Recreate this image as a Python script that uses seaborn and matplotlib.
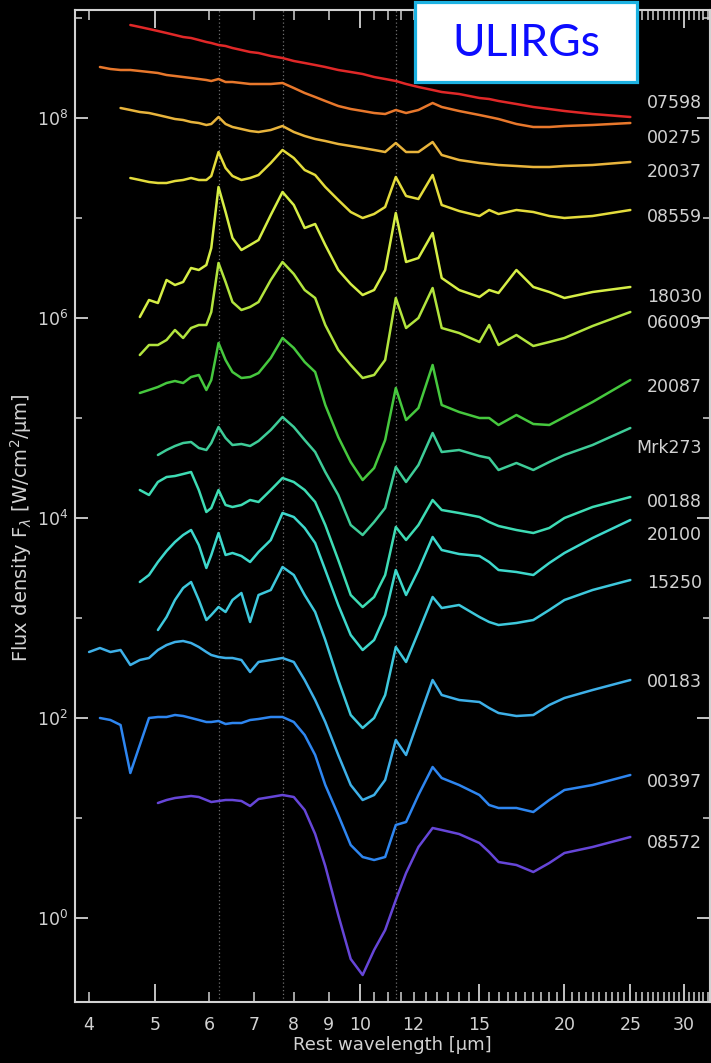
import numpy as np
import pandas as pd
import matplotlib
matplotlib.use("Agg")
import matplotlib.pyplot as plt
import seaborn as sns
from matplotlib.ticker import FixedLocator, FuncFormatter
from matplotlib.patches import Rectangle

nan = np.nan

# rest wavelength grid (micron), shared by all spectra
wavelength = [4.0, 4.15, 4.3, 4.45, 4.6, 4.75, 4.9, 5.05, 5.2, 5.35, 5.5, 5.65, 5.8, 5.95,
              6.05, 6.2, 6.35, 6.5, 6.7, 6.9, 7.1, 7.4, 7.7, 8.0, 8.3, 8.6, 8.9, 9.3, 9.7,
              10.1, 10.5, 10.9, 11.3, 11.7, 12.2, 12.8, 13.2, 14.0, 15.0, 15.5, 16.0, 17.0,
              18.0, 19.0, 20.0, 22.0, 25.0]

names = ["07598", "00275", "20037", "08559", "18030", "06009", "20087", "Mrk273",
         "00188", "20100", "15250", "00183", "00397", "08572"]

# log10 of the (offset) flux density
logf_07598 = [nan, nan, nan, nan, 8.93, 8.91, 8.89, 8.87, 8.85, 8.83, 8.81, 8.80, 8.78, 8.76,
              8.75, 8.73, 8.72, 8.70, 8.68, 8.66, 8.65, 8.62, 8.60, 8.57, 8.55, 8.53, 8.51,
              8.48, 8.46, 8.44, 8.41, 8.39, 8.37, 8.34, 8.31, 8.28, 8.26, 8.24, 8.20, 8.19,
              8.17, 8.14, 8.11, 8.09, 8.07, 8.04, 8.01]
logf_00275 = [nan, 8.51, 8.49, 8.48, 8.48, 8.47, 8.46, 8.45, 8.43, 8.42, 8.41, 8.40, 8.39, 8.38,
              8.37, 8.39, 8.36, 8.36, 8.35, 8.34, 8.34, 8.34, 8.35, 8.30, 8.25, 8.21, 8.17,
              8.12, 8.09, 8.07, 8.05, 8.04, 8.08, 8.05, 8.08, 8.15, 8.11, 8.07, 8.03, 8.01,
              7.99, 7.94, 7.91, 7.91, 7.92, 7.93, 7.95]
logf_20037 = [nan, nan, nan, 8.10, 8.08, 8.06, 8.05, 8.03, 8.01, 7.99, 7.98, 7.96, 7.95, 7.93,
              7.94, 8.01, 7.94, 7.91, 7.89, 7.87, 7.86, 7.88, 7.92, 7.86, 7.82, 7.79, 7.77,
              7.74, 7.72, 7.70, 7.68, 7.66, 7.75, 7.66, 7.66, 7.76, 7.63, 7.58, 7.55, 7.54,
              7.53, 7.52, 7.51, 7.51, 7.52, 7.53, 7.56]
logf_08559 = [nan, nan, nan, nan, 7.40, 7.38, 7.36, 7.35, 7.35, 7.37, 7.38, 7.40, 7.38, 7.38,
              7.42, 7.66, 7.50, 7.42, 7.38, 7.40, 7.43, 7.55, 7.68, 7.60, 7.48, 7.43, 7.31,
              7.18, 7.06, 7.00, 7.04, 7.11, 7.41, 7.22, 7.19, 7.43, 7.13, 7.07, 7.02, 7.08,
              7.04, 7.08, 7.06, 7.02, 7.00, 7.02, 7.08]
logf_18030 = [nan, nan, nan, nan, nan, 6.01, 6.18, 6.15, 6.38, 6.33, 6.36, 6.50, 6.48, 6.53,
              6.70, 7.31, 7.06, 6.80, 6.68, 6.73, 6.78, 7.03, 7.26, 7.13, 6.90, 6.94, 6.73,
              6.48, 6.34, 6.23, 6.28, 6.48, 7.05, 6.56, 6.60, 6.85, 6.40, 6.28, 6.21, 6.28,
              6.25, 6.48, 6.31, 6.26, 6.20, 6.26, 6.31]
logf_06009 = [nan, nan, nan, nan, nan, 5.63, 5.73, 5.73, 5.78, 5.88, 5.80, 5.90, 5.93, 5.93,
              6.06, 6.55, 6.36, 6.16, 6.08, 6.11, 6.16, 6.38, 6.56, 6.44, 6.28, 6.20, 5.93,
              5.68, 5.53, 5.40, 5.43, 5.58, 6.20, 5.90, 6.00, 6.30, 5.90, 5.85, 5.76, 5.93,
              5.73, 5.83, 5.72, 5.76, 5.80, 5.92, 6.06]
logf_20087 = [nan, nan, nan, nan, nan, 5.25, 5.28, 5.31, 5.35, 5.37, 5.35, 5.41, 5.43, 5.28,
              5.38, 5.75, 5.58, 5.46, 5.40, 5.41, 5.45, 5.60, 5.80, 5.70, 5.56, 5.46, 5.13,
              4.81, 4.56, 4.38, 4.50, 4.78, 5.30, 4.98, 5.10, 5.53, 5.13, 5.06, 5.00, 5.00,
              4.93, 5.03, 4.94, 4.93, 5.01, 5.16, 5.38]
logf_mrk273 = [nan, nan, nan, nan, nan, nan, nan, 4.63, 4.68, 4.72, 4.75, 4.76, 4.70, 4.68,
               4.75, 4.91, 4.80, 4.73, 4.74, 4.72, 4.77, 4.88, 5.01, 4.91, 4.78, 4.66, 4.46,
               4.23, 3.93, 3.83, 3.96, 4.10, 4.51, 4.36, 4.53, 4.85, 4.66, 4.68, 4.62, 4.60,
               4.48, 4.55, 4.48, 4.56, 4.63, 4.73, 4.90]
logf_00188 = [nan, nan, nan, nan, nan, 4.28, 4.23, 4.36, 4.41, 4.42, 4.44, 4.46, 4.28, 4.06,
              4.10, 4.28, 4.13, 4.11, 4.13, 4.18, 4.16, 4.28, 4.40, 4.36, 4.28, 4.16, 3.93,
              3.58, 3.23, 3.11, 3.21, 3.43, 3.91, 3.78, 3.93, 4.18, 4.08, 4.05, 4.01, 3.96,
              3.92, 3.88, 3.85, 3.90, 4.00, 4.11, 4.21]
logf_20100 = [nan, nan, nan, nan, nan, 3.36, 3.43, 3.56, 3.67, 3.76, 3.83, 3.88, 3.73, 3.50,
              3.63, 3.85, 3.63, 3.65, 3.62, 3.56, 3.66, 3.78, 4.05, 4.01, 3.90, 3.75, 3.48,
              3.13, 2.83, 2.68, 2.78, 3.03, 3.48, 3.23, 3.48, 3.81, 3.68, 3.64, 3.62, 3.56,
              3.48, 3.46, 3.43, 3.55, 3.65, 3.80, 3.98]
logf_15250 = [nan, nan, nan, nan, nan, nan, nan, 2.88, 3.01, 3.18, 3.30, 3.36, 3.18, 2.98,
              3.03, 3.11, 3.06, 3.18, 3.25, 2.96, 3.23, 3.28, 3.51, 3.43, 3.23, 3.06, 2.78,
              2.38, 2.03, 1.90, 2.00, 2.23, 2.71, 2.56, 2.86, 3.21, 3.10, 3.13, 3.01, 2.96,
              2.93, 2.95, 2.98, 3.08, 3.18, 3.28, 3.38]
logf_00183 = [2.66, 2.70, 2.66, 2.68, 2.53, 2.58, 2.60, 2.68, 2.73, 2.76, 2.77, 2.75, 2.71, 2.66,
              2.63, 2.61, 2.60, 2.60, 2.58, 2.46, 2.56, 2.58, 2.60, 2.56, 2.38, 2.18, 1.96,
              1.63, 1.33, 1.18, 1.23, 1.38, 1.78, 1.63, 1.98, 2.38, 2.23, 2.18, 2.16, 2.10,
              2.05, 2.02, 2.03, 2.13, 2.20, 2.28, 2.38]
logf_00397 = [nan, 2.00, 1.98, 1.93, 1.45, 1.73, 2.00, 2.01, 2.01, 2.03, 2.02, 2.00, 1.98, 1.96,
              1.96, 1.97, 1.94, 1.95, 1.95, 1.98, 1.99, 2.01, 2.01, 1.96, 1.83, 1.63, 1.33,
              1.03, 0.73, 0.61, 0.58, 0.61, 0.93, 0.96, 1.23, 1.51, 1.40, 1.33, 1.23, 1.13,
              1.10, 1.10, 1.06, 1.18, 1.28, 1.33, 1.43]
logf_08572 = [nan, nan, nan, nan, nan, nan, nan, 1.15, 1.18, 1.20, 1.21, 1.22, 1.21, 1.18,
              1.16, 1.17, 1.18, 1.18, 1.17, 1.12, 1.19, 1.21, 1.23, 1.21, 1.08, 0.84, 0.52,
              0.03, -0.41, -0.57, -0.32, -0.12, 0.18, 0.45, 0.71, 0.90, 0.88, 0.84, 0.75, 0.66,
              0.56, 0.53, 0.46, 0.55, 0.65, 0.71, 0.81]

spectra = [logf_07598, logf_00275, logf_20037, logf_08559, logf_18030, logf_06009,
           logf_20087, logf_mrk273, logf_00188, logf_20100, logf_15250, logf_00183,
           logf_00397, logf_08572]

# log10 height of each name label at the right edge
label_logy = [8.15, 7.80, 7.46, 7.01, 6.21, 5.95, 5.31, 4.70, 4.16, 3.83, 3.35, 2.36, 1.36, 0.75]

colors = ["#e02828", "#e8782c", "#e8b43c", "#e4dc3c", "#d6ee46", "#b2e43e", "#46c83e",
          "#3ecc98", "#3edcb4", "#3ed8cc", "#3ec8dc", "#3eb0e8", "#2e86f0", "#6646d8"]

pah_lines = [6.2, 7.7, 11.3]

frames = []
for name, logf in zip(names, spectra):
    frames.append(pd.DataFrame({"wavelength": wavelength,
                                "flux": 10 ** np.array(logf, dtype=float),
                                "galaxy": name}))
df = pd.concat(frames, ignore_index=True).dropna()

sns.set_style("ticks")
plt.rcParams["font.family"] = ["DejaVu Sans"]
fg = "#d2d2d2"

fig = plt.figure(figsize=(7.11, 10.63), dpi=100, facecolor="black")
ax = fig.add_axes([75 / 711, 1 - 1002 / 1063, 635 / 711, 992 / 1063])
ax.set_facecolor("black")
ax.set_xscale("log")
ax.set_yscale("log")

for w in pah_lines:
    ax.axvline(w, color="#6e6e6e", ls=(0, (1, 2)), lw=0.9, zorder=0)

sns.lineplot(data=df, x="wavelength", y="flux", hue="galaxy", hue_order=names,
             palette=colors, estimator=None, sort=False, legend=False, lw=1.8, ax=ax)

ax.set_xlim(3.814, 32.74)
ax.set_ylim(10 ** -0.84, 10 ** 9.08)

# x ticks: long at 5,10,...,30, short at every micron (half micron above 10)
ax.xaxis.set_major_locator(FixedLocator([5, 10, 15, 20, 25, 30]))
minor_x = [4, 6, 7, 8, 9] + [v for v in np.arange(10.5, 32.6, 0.5) if v % 5 != 0]
ax.xaxis.set_minor_locator(FixedLocator(minor_x))
ax.xaxis.set_major_formatter(FuncFormatter(lambda v, p: f"{v:g}"))
ax.xaxis.set_minor_formatter(FuncFormatter(
    lambda v, p: f"{v:g}" if v in (4, 6, 7, 8, 9, 12) else ""))

ax.yaxis.set_major_locator(FixedLocator([1e0, 1e2, 1e4, 1e6, 1e8]))
ax.yaxis.set_minor_locator(FixedLocator([1e1, 1e3, 1e5, 1e7, 1e9]))
ax.yaxis.set_major_formatter(FuncFormatter(lambda v, p: r"$10^{%d}$" % round(np.log10(v))))
ax.yaxis.set_minor_formatter(FuncFormatter(lambda v, p: ""))

ax.tick_params(axis="x", which="major", direction="in", length=13, width=1.3,
               color=fg, labelcolor=fg, labelsize=12.5, pad=10, top=True)
ax.tick_params(axis="x", which="minor", direction="in", length=7, width=1.1,
               color=fg, labelcolor=fg, labelsize=12.5, pad=10, top=True)
ax.tick_params(axis="y", which="major", direction="in", length=9.5, width=1.3,
               color=fg, labelcolor=fg, labelsize=12.5, pad=5, right=True)
ax.tick_params(axis="y", which="minor", direction="in", length=5, width=1.1,
               color=fg, right=True)
for s in ax.spines.values():
    s.set_color(fg)
    s.set_linewidth(1.5)

ax.set_xlabel("Rest wavelength [µm]", color=fg, fontsize=13)
ax.set_ylabel(r"Flux density F$_\lambda$ [W/cm$^2$/µm]", color=fg, fontsize=14)
ax.xaxis.set_label_coords(0.5, -0.034)
ax.yaxis.set_label_coords(-0.064, 0.478)

for name, ly in zip(names, label_logy):
    ax.text(0.9874, 10 ** ly, name, transform=ax.get_yaxis_transform(), ha="right",
            va="center", color=fg, fontsize=12.5)

fig.add_artist(Rectangle((415 / 711, 1 - 82 / 1063), 222 / 711, 80 / 1063,
                         transform=fig.transFigure, facecolor="white",
                         edgecolor="#1db2e2", lw=2.3, zorder=5))
fig.text(526 / 711, 1 - 44 / 1063, "ULIRGs", color="#0c0cff", fontsize=32,
         family=["Lato", "DejaVu Sans"], ha="center", va="center", zorder=6)

fig.savefig("out.png", dpi=100, facecolor=fig.get_facecolor())
